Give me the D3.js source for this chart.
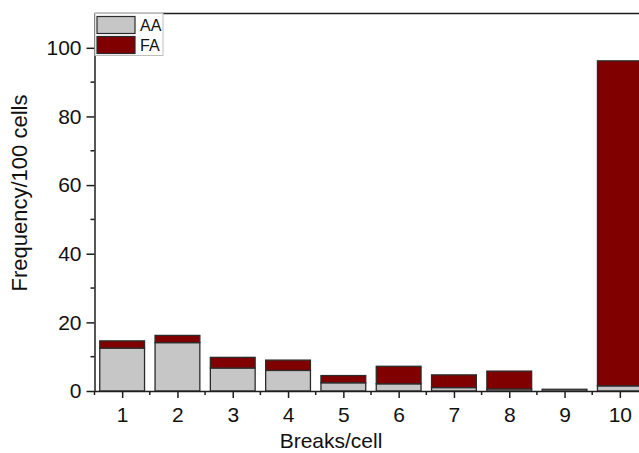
<!DOCTYPE html>
<html>
<head>
<meta charset="utf-8">
<script src="https://cdn.jsdelivr.net/npm/d3@7"></script>
<style>
  body { margin: 0; background: #fff; overflow: hidden; }
  svg { display: block; font-family: "Liberation Sans", Arial, sans-serif; }
</style>
</head>
<body>
<svg id="chart" width="639" height="453"></svg>
<script>
// breaks per cell
const categories = [1, 2, 3, 4, 5, 6, 7, 8, 9, 10];
const aaValues = [12.5, 14.1, 6.7, 6.0, 2.4, 2.1, 1.0, 0.6, 0.5, 1.5];
const faValues = [2.1, 2.1, 3.1, 3.0, 2.1, 5.1, 3.7, 5.2, 0.0, 94.7];
const yTicks = [0, 20, 40, 60, 80, 100];
const yMinorTicks = [10, 30, 50, 70, 90];
const seriesNames = ["AA", "FA"];
const seriesColors = ["#c6c6c6", "#800000"];

const margin = { left: 94.5, top: 13.5, bottom: 391 };
const plotRight = 647.5;

const svg = d3.select("#chart");

const x = d3.scaleLinear()
  .domain([0.5, 10.5])
  .range([margin.left, plotRight]);

const y = d3.scaleLinear()
  .domain([0, 110])
  .range([margin.bottom, margin.top]);

const rows = categories.map((c, i) => ({ cat: c, AA: aaValues[i], FA: faValues[i] }));
const stacked = d3.stack().keys(seriesNames)(rows);

const barWidth = (x(2) - x(1)) * 0.81;

// bars
svg.append("g")
  .selectAll("g")
  .data(stacked)
  .enter()
  .append("g")
  .attr("fill", (d, i) => seriesColors[i])
  .selectAll("rect")
  .data(d => d)
  .enter()
  .append("rect")
  .attr("x", d => x(d.data.cat) - barWidth / 2)
  .attr("y", d => y(d[1]))
  .attr("width", barWidth)
  .attr("height", d => y(d[0]) - y(d[1]))
  .attr("stroke", "#2b2b2b")
  .attr("stroke-width", 1.3);

// x axis
const xAxis = svg.append("g")
  .attr("transform", "translate(0," + margin.bottom + ")");

xAxis.call(d3.axisBottom(x).tickValues(categories).tickSize(7).tickSizeOuter(0).tickPadding(9).tickFormat(d3.format("d")));

xAxis.selectAll(".minor")
  .data(categories.map(c => c + 0.5).concat([0.5]))
  .enter()
  .append("line")
  .attr("class", "minor")
  .attr("x1", d => x(d))
  .attr("x2", d => x(d))
  .attr("y1", 0)
  .attr("y2", 4);

// y axis
const yAxis = svg.append("g")
  .attr("transform", "translate(" + margin.left + ",0)");

yAxis.call(d3.axisLeft(y).tickValues(yTicks).tickSize(8).tickSizeOuter(0).tickPadding(5));

yAxis.selectAll(".minor")
  .data(yMinorTicks)
  .enter()
  .append("line")
  .attr("class", "minor")
  .attr("x1", 0)
  .attr("x2", -4)
  .attr("y1", d => y(d))
  .attr("y2", d => y(d));

svg.selectAll(".domain, .tick line, .minor")
  .attr("stroke", "#1e1e1e")
  .attr("stroke-width", 1.5);

svg.selectAll(".tick text")
  .attr("fill", "#111")
  .style("font-size", "21px");

// top frame line
svg.append("line")
  .attr("x1", margin.left)
  .attr("x2", plotRight)
  .attr("y1", y(110))
  .attr("y2", y(110))
  .attr("stroke", "#1e1e1e")
  .attr("stroke-width", 1.5);

// axis titles
svg.append("text")
  .attr("x", 331)
  .attr("y", 448)
  .attr("text-anchor", "middle")
  .style("font-size", "21px")
  .attr("fill", "#111")
  .text("Breaks/cell");

svg.append("text")
  .attr("transform", "translate(27,193) rotate(-90)")
  .attr("text-anchor", "middle")
  .style("font-size", "22px")
  .attr("fill", "#111")
  .text("Frequency/100 cells");

// legend
const legend = svg.append("g").attr("transform", "translate(95,13.5)");

legend.append("rect")
  .attr("width", 68)
  .attr("height", 42)
  .attr("fill", "#fff")
  .attr("stroke", "#bdbdbd")
  .attr("stroke-width", 1);

seriesNames.forEach((name, i) => {
  legend.append("rect")
    .attr("x", 2)
    .attr("y", 3 + i * 20)
    .attr("width", 38)
    .attr("height", 17)
    .attr("fill", seriesColors[i])
    .attr("stroke", "#2b2b2b")
    .attr("stroke-width", 1.2);
  legend.append("text")
    .attr("x", 45)
    .attr("y", 17.5 + i * 20)
    .style("font-size", "16px")
    .attr("fill", "#111")
    .text(name);
});
</script>
</body>
</html>
